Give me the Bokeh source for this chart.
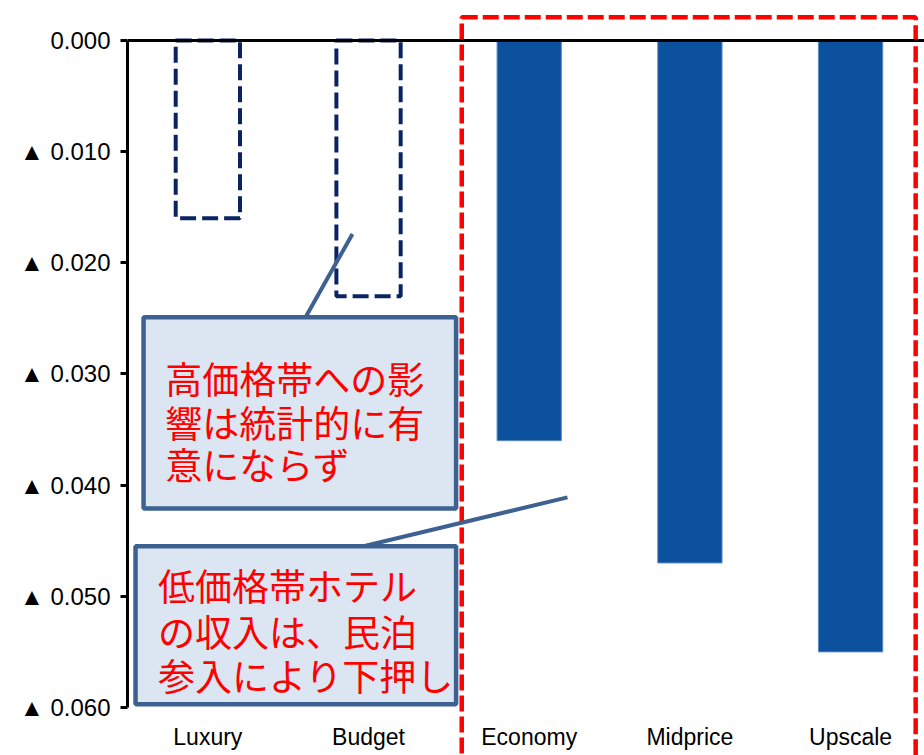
from bokeh.plotting import figure
from bokeh.models import Range1d, FixedTicker, Span
from bokeh.core.properties import value
from bokeh.embed import file_html
from bokeh.resources import INLINE

# ---- data ----
categories = ["Luxury", "Budget", "Economy", "Midprice", "Upscale"]
values = [0.016, 0.023, 0.036, 0.047, 0.055]
significant = [False, False, True, True, True]
y_ticks = [0.0, 0.01, 0.02, 0.03, 0.04, 0.05, 0.06]
y_tick_labels = ["0.000", "▲ 0.010", "▲ 0.020", "▲ 0.030", "▲ 0.040", "▲ 0.050", "▲ 0.060"]
note1_lines = ["高価格帯への影", "響は統計的に有", "意にならず"]
note2_lines = ["低価格帯ホテル", "の収入は、民泊", "参入により下押し"]

xs = [i + 0.5 for i in range(len(categories))]
y_min, y_max = y_ticks[0], y_ticks[-1]

# frame spans whole height; axis extent limited with bounds
p = figure(width=924, height=755, output_backend="svg", toolbar_location=None,
           x_range=Range1d(0, 4.96), y_range=Range1d(0.06432, -0.003598),
           x_axis_location="below", y_axis_location="left",
           min_border_left=127, min_border_right=0, min_border_top=0, min_border_bottom=0)
p.grid.visible = False
p.outline_line_color = None
p.background_fill_color = "white"
p.border_fill_color = "white"

# y axis
ya = p.yaxis[0]
ya.ticker = FixedTicker(ticks=y_ticks)
ya.bounds = (y_min, y_max)
ya.major_label_overrides = {t: l for t, l in zip(y_ticks, y_tick_labels)}
ya.axis_line_width = 3
ya.axis_line_color = "black"
ya.major_tick_line_width = 3
ya.major_tick_out = 7
ya.major_tick_in = 0
ya.minor_tick_line_color = None
ya.major_label_text_font = "Liberation Sans"
ya.major_label_text_font_size = "24px"
ya.major_label_text_color = "black"
ya.major_label_standoff = 10

# x axis, drawn at the bottom of the value range
xa = p.xaxis[0]
xa.fixed_location = y_max
xa.ticker = FixedTicker(ticks=xs)
xa.major_label_overrides = {x: c for x, c in zip(xs, categories)}
xa.axis_line_color = None
xa.major_tick_line_color = None
xa.minor_tick_line_color = None
xa.major_label_text_font = "Liberation Sans"
xa.major_label_text_font_size = "23px"
xa.major_label_text_color = "black"
xa.major_label_standoff = 11

# bars
sig_x = [x for x, s in zip(xs, significant) if s]
sig_v = [v for v, s in zip(values, significant) if s]
ns_x = [x for x, s in zip(xs, significant) if not s]
ns_v = [v for v, s in zip(values, significant) if not s]

p.vbar(x=sig_x, top=0, bottom=sig_v, width=0.4, fill_color="#0b519e",
       line_color="#5b8cc8", line_width=1)
p.vbar(x=ns_x, top=0, bottom=ns_v, width=0.4, fill_color=None,
       line_color="#0a2463", line_width=4, line_dash="16 6")

# top axis line (zero line)
p.add_layout(Span(location=0, dimension="width", line_color="black", line_width=3))

# red dashed frame around significant group
p.quad(left=[2.08], right=[4.905], top=[-0.0021], bottom=[0.0648],
       fill_color=None, line_color="#ff0000", line_width=4.5, line_dash="16 5")

# callout connectors
p.line(x=[1.108, 1.40], y=[0.0249, 0.0174], line_color="#3d6190", line_width=4)
p.line(x=[1.469, 2.738], y=[0.0455, 0.0411], line_color="#3d6190", line_width=4)

# callout boxes
p.quad(left=[0.10, 0.05], right=[2.045, 2.045], top=[0.0249, 0.0455], bottom=[0.0421, 0.0597],
       fill_color="#dce6f2", line_color="#3d6190", line_width=4.5)

# callout texts
y1 = [0.0304, 0.0343, 0.0381]
y2 = [0.0490, 0.0531, 0.0571]
p.text(x=[0.235] * 3, y=y1, text=note1_lines, text_font=value("Noto Sans CJK JP"),
       text_font_size="37px", text_color="#ff0000", text_baseline="middle", text_align="left")
p.text(x=[0.19] * 3, y=y2, text=note2_lines, text_font=value("Noto Sans CJK JP"),
       text_font_size="37px", text_color="#ff0000", text_baseline="middle", text_align="left")

open("out.html", "w").write(file_html(p, INLINE))
